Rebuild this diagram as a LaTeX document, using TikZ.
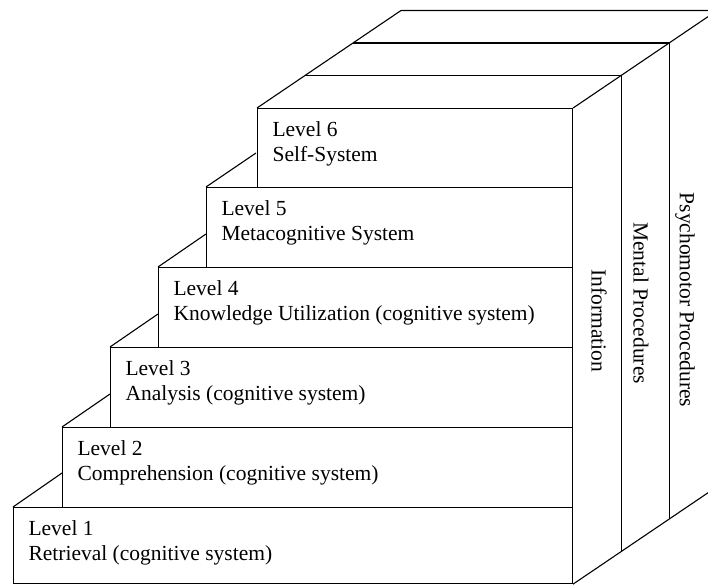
\documentclass[tikz,border=0pt]{standalone}
\usepackage{fontspec}
\setmainfont{Liberation Serif}
\usepackage{tikz}
\usetikzlibrary{calc}

\tikzset{
	stepbox/.style={draw,line width=1.1pt,minimum width=#1,minimum height=80pt,anchor=north west,inner sep=0pt},
	leveltext/.style={anchor=north west,align=left,inner sep=0pt,font=\fontsize{21.5}{25.5}\selectfont},
	sidetext/.style={rotate=-90,inner sep=0pt,font=\fontsize{21.5}{25.5}\selectfont}
}

\begin{document}
\begin{tikzpicture}[x=1pt,y=-1pt,line width=1.1pt]
	\useasboundingbox (0,0) rectangle (708,585);
	
	\node[stepbox=559pt,minimum height=76pt] (lev1) at (13,507) {};
	\node[stepbox=510pt] (lev2) at (62,427) {};
	\node[stepbox=462pt] (lev3) at (110,347) {};
	\node[stepbox=414pt] (lev4) at (158,267) {};
	\node[stepbox=366pt] (lev5) at (206,187) {};
	\node[stepbox=315pt,minimum height=79pt] (lev6) at (257,108) {};
	
	\node[leveltext] (txt1) at ([xshift=15pt,yshift=-13pt]lev1.north west) {Level 1\\Retrieval (cognitive system)};
	\node[leveltext] (txt2) at ([xshift=15pt,yshift=-13pt]lev2.north west) {Level 2\\Comprehension (cognitive system)};
	\node[leveltext] (txt3) at ([xshift=15pt,yshift=-13pt]lev3.north west) {Level 3\\Analysis (cognitive system)};
	\node[leveltext] (txt4) at ([xshift=15pt,yshift=-13pt]lev4.north west) {Level 4\\Knowledge Utilization (cognitive system)};
	\node[leveltext] (txt5) at ([xshift=15pt,yshift=-13pt]lev5.north west) {Level 5\\Metacognitive System};
	\node[leveltext] (txt6) at ([xshift=15pt,yshift=-13pt]lev6.north west) {Level 6\\Self-System};
	
	\draw (lev1.north west) -- ($(lev1.north west)+(49,-34)$);
	\draw (lev2.north west) -- ($(lev2.north west)+(48,-33)$);
	\draw (lev3.north west) -- ($(lev3.north west)+(48,-33)$);
	\draw (lev4.north west) -- ($(lev4.north west)+(48,-33)$);
	\draw (lev5.north west) -- ($(lev5.north west)+(50,-34)$);
	
	\coordinate (t1) at ($(lev6.north west)+(48,-32.5)$);
	\coordinate (t2) at ($(lev6.north west)+(96,-65)$);
	\coordinate (t3) at ($(lev6.north west)+(144,-97.5)$);
	\coordinate (r1) at ($(lev6.north east)+(48,-32.5)$);
	\coordinate (r2) at ($(lev6.north east)+(96,-65)$);
	\coordinate (r3) at ($(lev6.north east)+(144,-97.5)$);
	\coordinate (b1) at ($(lev1.south east)+(48,-32.5)$);
	\coordinate (b2) at ($(lev1.south east)+(96,-65)$);
	\coordinate (b3) at ($(lev1.south east)+(144,-97.5)$);
	
	\draw (lev6.north west) -- (t3) -- (r3) -- (lev6.north east);
	\draw (lev1.south east) -- (b3);
	\draw (t1) -- (r1) -- (b1);
	\draw (t2) -- (r2) -- (b2);
	
	\node[sidetext] (info) at (599,321) {Information};
	\node[sidetext] (mental) at (641,303) {Mental Procedures};
	\node[sidetext] (psycho) at (685,300) {Psychomotor Procedures};
\end{tikzpicture}
\end{document}
